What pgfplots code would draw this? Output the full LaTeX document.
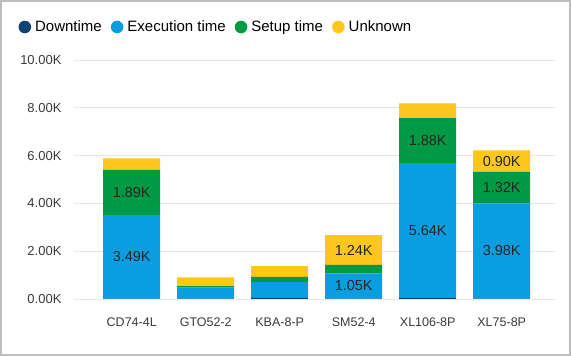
\documentclass[border=0pt]{standalone}
\usepackage{pgfplots}
\pgfplotsset{compat=1.18}
\usepackage{fontspec}
\setmainfont{Liberation Sans}
\definecolor{cDown}{HTML}{0E4174}
\definecolor{cExec}{HTML}{0A9EE0}
\definecolor{cSetup}{HTML}{009A44}
\definecolor{cUnk}{HTML}{FFC61B}
\definecolor{cGrid}{HTML}{E6E6E6}
\definecolor{cTick}{HTML}{3A3A3A}
\definecolor{cFrame}{HTML}{BDBDBD}
\begin{document}
\begin{tikzpicture}
\draw[line width=2pt, cFrame] (1pt,1pt) rectangle (570pt,355pt);
\begin{axis}[
  at={(74pt,57pt)}, anchor=south west,
  x=74pt, y=23.9pt,
  xmin=-0.78, xmax=5.72, ymin=0, ymax=10,
  ybar stacked, bar width=57pt,
  axis line style={draw=none},
  major tick length=0pt,
  ymajorgrids, grid style={cGrid, line width=0.8pt},
  ytick={0,2,4,6,8,10},
  yticklabels={0.00K,2.00K,4.00K,6.00K,8.00K,10.00K},
  xtick={0,1,2,3,4,5},
  xticklabels={CD74-4L,GTO52-2,KBA-8-P,SM52-4,XL106-8P,XL75-8P},
  /pgf/number format/assume math mode=true,
  yticklabel style={font=\fontsize{13}{15}\selectfont, text=cTick, xshift=-9pt},
  xticklabel style={font=\fontsize{12.5}{15}\selectfont, text=cTick, yshift=-15pt},
  point meta=explicit symbolic,
  nodes near coords,
  nodes near coords align={center},
  every node near coord/.append style={font=\fontsize{14.5}{16}\selectfont, text=black!85},
  legend columns=-1,
  legend style={at={(-0.122,1.138)}, anchor=west, draw=none, fill=none,
    font=\fontsize{15}{17}\selectfont, text=black,
    /tikz/every odd column/.append style={column sep=2pt},
    /tikz/every even column/.append style={column sep=7pt}},
  legend image code/.code={\fill[#1, draw=none] (5pt,0pt) circle (6.3pt);},
  clip=false,
]
\addplot[fill=cDown, draw=none] coordinates {(0,0.02) [] (1,0.02) [] (2,0.05) [] (3,0.02) [] (4,0.05) [] (5,0.02) []};
\addplot[fill=cExec, draw=none] coordinates {(0,3.49) [3.49K] (1,0.46) [] (2,0.66) [] (3,1.05) [1.05K] (4,5.64) [5.64K] (5,3.98) [3.98K]};
\addplot[fill=cSetup, draw=none] coordinates {(0,1.89) [1.89K] (1,0.06) [] (2,0.22) [] (3,0.36) [] (4,1.88) [1.88K] (5,1.32) [1.32K]};
\addplot[fill=cUnk, draw=none] coordinates {(0,0.48) [] (1,0.36) [] (2,0.45) [] (3,1.24) [1.24K] (4,0.62) [] (5,0.90) [0.90K]};
\legend{Downtime,Execution time,Setup time,Unknown}
\end{axis}
\end{tikzpicture}
\end{document}
